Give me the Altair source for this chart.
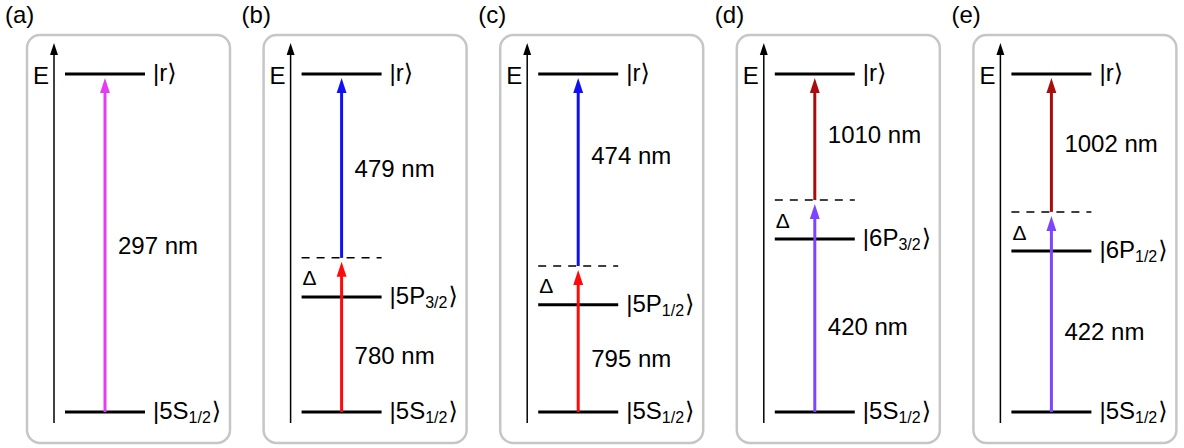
import altair as alt
import pandas as pd

# Level schemes for the five excitation paths.
# Energies in arbitrary units: ground state |5S1/2> = 0, Rydberg state |r> = 100.
panel_tags = ["(a)", "(b)", "(c)", "(d)", "(e)"]
ground_E = 0.0
rydberg_E = 100.0
inter_state = [None, "5P", "5P", "6P", "6P"]
inter_j = [None, "3/2", "1/2", "3/2", "1/2"]
inter_E = [None, 34.0, 31.7, 51.2, 47.6]
virtual_E = [None, 45.6, 43.2, 62.7, 59.2]
first_wl = ["297 nm", "780 nm", "795 nm", "420 nm", "422 nm"]
second_wl = [None, "479 nm", "474 nm", "1010 nm", "1002 nm"]
first_color = ["#e23ef0", "#ff0a0a", "#ff0a0a", "#7d45ff", "#7d45ff"]
second_color = [None, "#1010f5", "#1010f5", "#a80c0c", "#a80c0c"]
first_label_E = [48.8, 16.3, 15.4, 24.9, 23.4]
second_label_E = [None, 71.6, 75.4, 81.7, 79.0]

# ---- canvas / layout
W, H = 1184, 448
PX_PER_E = 3.38
GROUND_PX = 412.0
STEP = 236.6
FONT = "Liberation Sans, Arial, DejaVu Sans, sans-serif"
FS = 24
SUB_FS = 16


def e_at(px):
    """Energy coordinate that sits at a given pixel row."""
    return (GROUND_PX - px) / PX_PER_E


E_TOP = e_at(0)
E_BOT = e_at(H)

BOX_L, BOX_R, BOX_T, BOX_B = 27, 230, 35, 443
AXIS_X, AXIS_B, AXIS_T = 54, 423, 43
LEVEL_L, LEVEL_R = 65, 145
ARROW_X = 105
STATE_X = 153
WL_X = 118
DELTA_X = 66
TIP_GAP = 4 / PX_PER_E
HEAD_LEN = 15
AX_HEAD_LEN = 12

# approximate advance widths (em) for the label font
ADV = {"|": 0.26, "5": 0.556, "6": 0.556, "1": 0.556, "2": 0.556, "3": 0.556,
       "/": 0.278, "S": 0.667, "P": 0.667, "r": 0.333}


def text_w(s, size):
    return sum(ADV.get(c, 0.556) for c in s) * size


xs = alt.Scale(domain=[0, W], nice=False, zero=False)
ys = alt.Scale(domain=[E_BOT, E_TOP], nice=False, zero=False)

boxes, axes, levels, dashes, shafts, heads = [], [], [], [], [], []
tags, elabels, mains, subs, kets, wls, deltas = [], [], [], [], [], [], []

for i in range(5):
    o = i * STEP
    boxes.append({"x": BOX_L + o, "x2": BOX_R + o, "y": e_at(BOX_T), "y2": e_at(BOX_B)})
    axes.append({"x": AXIS_X + o, "y": e_at(AXIS_B), "y2": e_at(AXIS_T + AX_HEAD_LEN / 2)})
    heads.append({"x": AXIS_X + o, "y": e_at(AXIS_T), "color": "#000000", "size": AX_HEAD_LEN ** 2})
    tags.append({"x": 5 + o, "y": e_at(16), "text": panel_tags[i]})
    elabels.append({"x": 49 + o, "y": e_at(77), "text": "E"})

    # ground and Rydberg levels
    for E in (ground_E, rydberg_E):
        levels.append({"x": LEVEL_L + o, "x2": LEVEL_R + o, "y": E})
    mains.append({"x": STATE_X + o, "y": rydberg_E, "text": "|r"})
    kets.append({"x": STATE_X + o + text_w("|r", FS), "y": rydberg_E, "text": "\u27e9"})
    mains.append({"x": STATE_X + o, "y": ground_E, "text": "|5S"})
    subs.append({"x": STATE_X + o + text_w("|5S", FS), "y": ground_E, "text": "1/2"})
    kets.append({"x": STATE_X + o + text_w("|5S", FS) + text_w("1/2", SUB_FS) + 1,
                 "y": ground_E, "text": "\u27e9"})

    ax = ARROW_X + o
    if inter_state[i] is None:
        # single-photon excitation
        tip = rydberg_E - TIP_GAP
        shafts.append({"x": ax, "y": ground_E, "y2": tip - HEAD_LEN / 2 / PX_PER_E, "color": first_color[i]})
        heads.append({"x": ax, "y": tip, "color": first_color[i], "size": HEAD_LEN ** 2})
        wls.append({"x": WL_X + o, "y": first_label_E[i], "text": first_wl[i]})
        continue

    # two-photon excitation via a detuned intermediate state
    levels.append({"x": LEVEL_L + o, "x2": LEVEL_R + o, "y": inter_E[i]})
    dashes.append({"x": LEVEL_L + o, "x2": LEVEL_R + o, "y": virtual_E[i]})
    name = "|" + inter_state[i]
    mains.append({"x": STATE_X + o, "y": inter_E[i], "text": name})
    subs.append({"x": STATE_X + o + text_w(name, FS), "y": inter_E[i], "text": inter_j[i]})
    kets.append({"x": STATE_X + o + text_w(name, FS) + text_w(inter_j[i], SUB_FS) + 1,
                 "y": inter_E[i], "text": "\u27e9"})
    deltas.append({"x": DELTA_X + o, "y": (inter_E[i] + virtual_E[i]) / 2, "text": "\u0394"})

    tip1 = virtual_E[i] - TIP_GAP
    shafts.append({"x": ax, "y": ground_E, "y2": tip1 - HEAD_LEN / 2 / PX_PER_E, "color": first_color[i]})
    heads.append({"x": ax, "y": tip1, "color": first_color[i], "size": HEAD_LEN ** 2})
    tip2 = rydberg_E - TIP_GAP
    shafts.append({"x": ax, "y": virtual_E[i], "y2": tip2 - HEAD_LEN / 2 / PX_PER_E, "color": second_color[i]})
    heads.append({"x": ax, "y": tip2, "color": second_color[i], "size": HEAD_LEN ** 2})
    wls.append({"x": WL_X + o, "y": first_label_E[i], "text": first_wl[i]})
    wls.append({"x": WL_X + o, "y": second_label_E[i], "text": second_wl[i]})

X = alt.X("x:Q", scale=xs, axis=None)
X2 = alt.X2("x2:Q")
Y = alt.Y("y:Q", scale=ys, axis=None)
Y2 = alt.Y2("y2:Q")

box_layer = alt.Chart(pd.DataFrame(boxes)).mark_rect(
    fillOpacity=0, stroke="#c6c6c6", strokeWidth=2.5, cornerRadius=13
).encode(x=X, x2=X2, y=Y, y2=Y2)

axis_layer = alt.Chart(pd.DataFrame(axes)).mark_rule(
    color="black", strokeWidth=1.5
).encode(x=X, y=Y, y2=Y2)

level_layer = alt.Chart(pd.DataFrame(levels)).mark_rule(
    color="black", strokeWidth=3
).encode(x=X, x2=X2, y=Y)

dash_layer = alt.Chart(pd.DataFrame(dashes)).mark_rule(
    color="black", strokeWidth=1.5, strokeDash=[8, 7]
).encode(x=X, x2=X2, y=Y)

shaft_layer = alt.Chart(pd.DataFrame(shafts)).mark_rule(strokeWidth=3).encode(
    x=X, y=Y, y2=Y2, color=alt.Color("color:N", scale=None)
)

# arrowhead with its tip at the anchor point
head_layer = alt.Chart(pd.DataFrame(heads)).mark_point(
    shape="M0,0L0.66,2L-0.66,2Z", filled=True, opacity=1, strokeWidth=0
).encode(
    x=X, y=Y,
    color=alt.Color("color:N", scale=None),
    size=alt.Size("size:Q", scale=None),
)


def text_layer(rows, size, align="left", baseline="middle", dy=0):
    return alt.Chart(pd.DataFrame(rows)).mark_text(
        font=FONT, fontSize=size, align=align, baseline=baseline, dy=dy, color="black"
    ).encode(x=X, y=Y, text="text:N")


layers = [
    box_layer, axis_layer, level_layer, dash_layer, shaft_layer, head_layer,
    text_layer(tags, FS),
    text_layer(elabels, FS, align="right"),
    text_layer(mains, FS, baseline="alphabetic", dy=0.3 * FS),
    text_layer(subs, SUB_FS, baseline="alphabetic", dy=0.3 * FS + 4),
    text_layer(kets, FS, baseline="alphabetic", dy=0.3 * FS),
    text_layer(wls, FS),
    text_layer(deltas, 21, dy=2),
]

chart = alt.layer(*layers).properties(
    width=W, height=H, padding=0, autosize="none", background="white"
).configure_view(strokeWidth=0)

chart.save("out.html", embed_options={"renderer": "svg", "actions": False})
